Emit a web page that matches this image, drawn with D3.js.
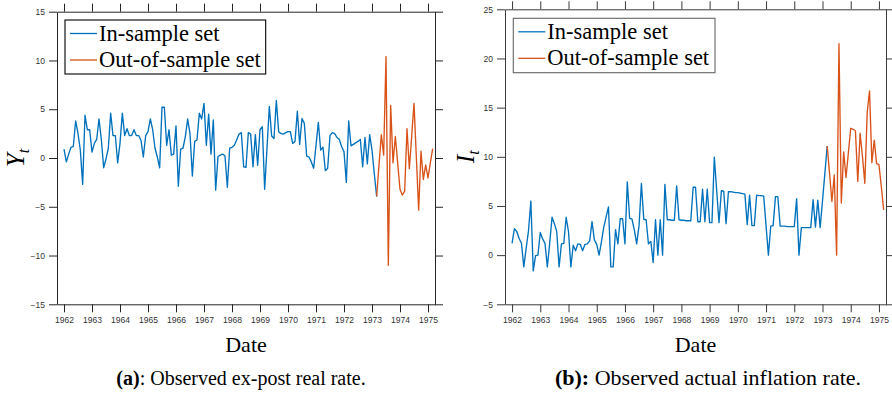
<!DOCTYPE html>
<html>
<head>
<meta charset="utf-8">
<script src="https://cdn.jsdelivr.net/npm/d3@7"></script>
<style>
  html, body { margin: 0; padding: 0; background: #fff; }
  svg { display: block; }
</style>
</head>
<body>
<svg id="fig" width="892" height="393"></svg>
<script>
// Monthly observations starting January 1962
const startYear = 1962;
const splitIndex = 134; // last in-sample month (shared with the out-of-sample line)

// Observed ex-post real rate Y_t
const realRate = [
  0.9, -0.4, 0.4, 1.1, 1.2, 3.8, 2.5, 0.8, -2.7, 4.4, 2.9, 2.9,
  0.6, 1.5, 1.9, 4.0, 1.9, -1.0, -0.1, 1.0, 4.6, 2.3, 2.3, -0.5,
  1.5, 4.6, 2.3, 3.0, 2.3, 2.3, 2.9, 2.3, 2.3, 1.8, 0.1, 2.3,
  2.7, 4.0, 2.9, 1.0, 0.1, -1.0, 5.2, 5.2, 1.3, 2.9, 0.3, 0.4,
  3.3, -2.9, 0.9, 1.0, 2.2, 4.0, 2.5, -1.85, 1.7, 1.85, 4.6, 4.0,
  5.6, 1.3, 4.5, 0.4, 3.9, -3.3, 0.15, 0.3, 0.4, 0.2, -3.0, 1.0,
  1.1, 1.3, 1.85, 2.45, 2.6, -0.9, -0.95, 2.6, 2.45, -0.9, 2.4, -0.75,
  2.9, 3.2, -3.2, 1.0, 5.3, 2.25, 2.0, 5.9, 2.7, 2.5, 2.45, 2.6,
  2.7, 2.7, 1.5, 1.7, 4.8, 1.4, 4.05, 3.55, 0.2, 0.1, -0.4, -1.05,
  1.3, 3.65, 0.8, 1.1, -1.3, -1.05, 2.3, 2.6, 2.5, 2.1, 1.9, 1.15,
  0.65, -2.5, 3.8, 1.25, 1.4, 1.55, 1.7, 1.9, -0.9, 2.1, -0.6, 2.4,
  0.8, -1.65, -3.95, -0.7, 2.4, 0.3, 10.4, -11.0, 5.4, -0.5, 2.2, -0.5,
  -3.2, -3.8, -3.4, 3.0, -1.1, 2.2, 5.6, 0.1, -5.35, 0.7, -2.2, -0.7,
  -2.05, -0.5, 0.95
];

// Observed actual inflation rate I_t
const inflation = [
  1.2, 2.7, 2.4, 1.7, 1.2, -1.2, 0.7, 2.5, 5.5, -1.6, -0.05, 0.0,
  2.3, 1.65, 1.2, -1.2, 1.2, 3.85, 3.2, 2.4, -1.2, 1.15, 1.2, 3.85,
  2.4, -1.2, 1.0, 0.45, 1.15, 1.1, 0.45, 1.1, 1.15, 1.45, 3.4, 1.55,
  1.1, 0.0, 1.35, 2.85, 3.9, 4.9, -1.2, -1.2, 2.6, 1.15, 3.7, 3.7,
  1.15, 7.45, 3.75, 3.65, 2.55, 1.15, 3.0, 7.3, 3.65, 3.6, 1.15, 1.4,
  -0.75, 3.6, 0.0, 3.6, 0.0, 7.2, 3.6, 3.6, 3.55, 3.55, 7.05, 3.6,
  3.55, 3.55, 3.5, 3.5, 3.5, 6.9, 6.9, 3.4, 3.4, 6.7, 3.4, 6.7,
  3.3, 3.3, 9.95, 6.6, 3.3, 6.55, 6.5, 3.2, 6.45, 6.45, 6.4, 6.35,
  6.35, 6.3, 6.25, 6.2, 3.1, 6.1, 3.0, 3.0, 6.1, 6.05, 6.05, 6.0,
  3.0, 0.0, 2.95, 3.0, 5.95, 5.95, 2.95, 2.95, 2.95, 2.9, 2.9, 2.9,
  2.9, 5.75, 0.0, 2.8, 2.8, 2.8, 2.8, 2.8, 5.65, 2.85, 5.6, 2.8,
  5.5, 8.3, 11.1, 8.3, 5.45, 8.15, 0.0, 21.5, 5.3, 10.5, 7.9, 10.4,
  12.9, 12.8, 12.65, 7.5, 12.4, 10.0, 7.3, 14.5, 16.7, 9.4, 11.7, 9.3,
  9.2, 7.0, 4.6
];

const yearTicks = [1962, 1963, 1964, 1965, 1966, 1967, 1968, 1969, 1970, 1971, 1972, 1973, 1974, 1975];
const realTicks = [-15, -10, -5, 0, 5, 10, 15];
const inflTicks = [-5, 0, 5, 10, 15, 20, 25];
const seriesNames = ["In-sample set", "Out-of-sample set"];
const seriesColors = ["#0072BD", "#D95319"];

const svg = d3.select("#fig");
const serif = "'Liberation Serif', 'Times New Roman', serif";
const sans = "'Liberation Sans', Arial, sans-serif";
const axisColor = "#333";

function panel(opts) {
  const x = d3.scaleLinear().domain([1961.75, 1975.25]).range([opts.left, opts.right]);
  const y = d3.scaleLinear().domain(opts.yDomain).range([opts.bottom, opts.top]);
  const g = svg.append("g");

  const styleAxis = sel => {
    sel.selectAll("path.domain").attr("stroke", opts.frame).attr("stroke-width", 1);
    sel.selectAll(".tick line").attr("stroke", opts.frame).attr("stroke-width", 1);
    sel.selectAll("text").attr("fill", axisColor).style("font-family", sans).style("font-size", "8.5px");
  };

  g.append("g").attr("transform", `translate(0,${opts.bottom})`)
    .call(d3.axisBottom(x).tickValues(yearTicks).tickFormat(d3.format("d")).tickSize(8).tickSizeOuter(0).tickPadding(5))
    .call(styleAxis);
  g.append("g").attr("transform", `translate(0,${opts.top})`)
    .call(d3.axisTop(x).tickValues(yearTicks).tickFormat("").tickSize(8).tickSizeOuter(0))
    .call(styleAxis);
  g.append("g").attr("transform", `translate(${opts.left},0)`)
    .call(d3.axisLeft(y).tickValues(opts.yTicks).tickFormat(d3.format("d")).tickSize(8).tickSizeOuter(0).tickPadding(4))
    .call(styleAxis);
  g.append("g").attr("transform", `translate(${opts.right},0)`)
    .call(d3.axisRight(y).tickValues(opts.yTicks).tickFormat("").tickSize(8).tickSizeOuter(0))
    .call(styleAxis);

  const pts = opts.values.map((v, i) => ({ t: startYear + i / 12, v }));
  const line = d3.line().x(d => x(d.t)).y(d => y(d.v));
  const parts = [pts.slice(0, splitIndex + 1), pts.slice(splitIndex)];
  parts.forEach((p, k) => {
    g.append("path").datum(p)
      .attr("fill", "none")
      .attr("stroke", seriesColors[k])
      .attr("stroke-width", 1.35)
      .attr("stroke-linejoin", "round")
      .attr("d", line);
  });

  // legend
  const L = opts.legend;
  g.append("rect").attr("x", L.x).attr("y", L.y).attr("width", L.w).attr("height", L.h)
    .attr("fill", "#fff").attr("stroke", L.stroke).attr("stroke-width", 1.1);
  seriesNames.forEach((name, k) => {
    const ly = L.y + 13.5 + k * 26.5;
    g.append("line").attr("x1", L.x + 5).attr("x2", L.x + 32).attr("y1", ly).attr("y2", ly)
      .attr("stroke", seriesColors[k]).attr("stroke-width", 1.3);
    g.append("text").attr("x", L.x + 34).attr("y", ly + 7)
      .style("font-family", serif).style("font-size", "22.5px").attr("fill", "#000")
      .text(name);
  });

  // y label
  const yl = g.append("text")
    .attr("transform", `translate(${opts.yLabelX},${(opts.top + opts.bottom) / 2}) rotate(-90)`)
    .attr("text-anchor", "middle")
    .style("font-family", serif).style("font-size", "25px").style("font-style", "italic").attr("fill", "#000");
  yl.append("tspan").text(opts.yLabel);
  yl.append("tspan").attr("dy", 5).style("font-size", "16px").text("t");

  // x label
  g.append("text").attr("x", (opts.left + opts.right) / 2).attr("y", 352)
    .attr("text-anchor", "middle")
    .style("font-family", serif).style("font-size", "22px").attr("fill", "#000")
    .text("Date");

  // caption
  const cap = g.append("text").attr("x", opts.capX).attr("y", 385)
    .attr("text-anchor", "middle")
    .style("font-family", serif).style("font-size", opts.capSize).attr("fill", "#000");
  cap.append("tspan").style("font-weight", "bold").text(opts.capTag);
  cap.append("tspan").text(opts.capText);
}

panel({
  left: 57, right: 435, top: 11.7, bottom: 304.3,
  yDomain: [-15, 15], yTicks: realTicks, values: realRate,
  frame: "#262626",
  legend: { x: 65, y: 20, w: 200.7, h: 54, stroke: "#000" },
  yLabel: "Y", yLabelX: 24,
  capX: 241, capSize: "20px", capTag: "(a)", capText: ": Observed ex-post real rate."
});

panel({
  left: 505, right: 886, top: 9.3, bottom: 304.3,
  yDomain: [-5, 25], yTicks: inflTicks, values: inflation,
  frame: "#3a3a3a",
  legend: { x: 513.3, y: 18.3, w: 201.7, h: 54.4, stroke: "#666" },
  yLabel: "I", yLabelX: 474,
  capX: 708, capSize: "22px", capTag: "(b):", capText: " Observed actual inflation rate."
});
</script>
</body>
</html>
